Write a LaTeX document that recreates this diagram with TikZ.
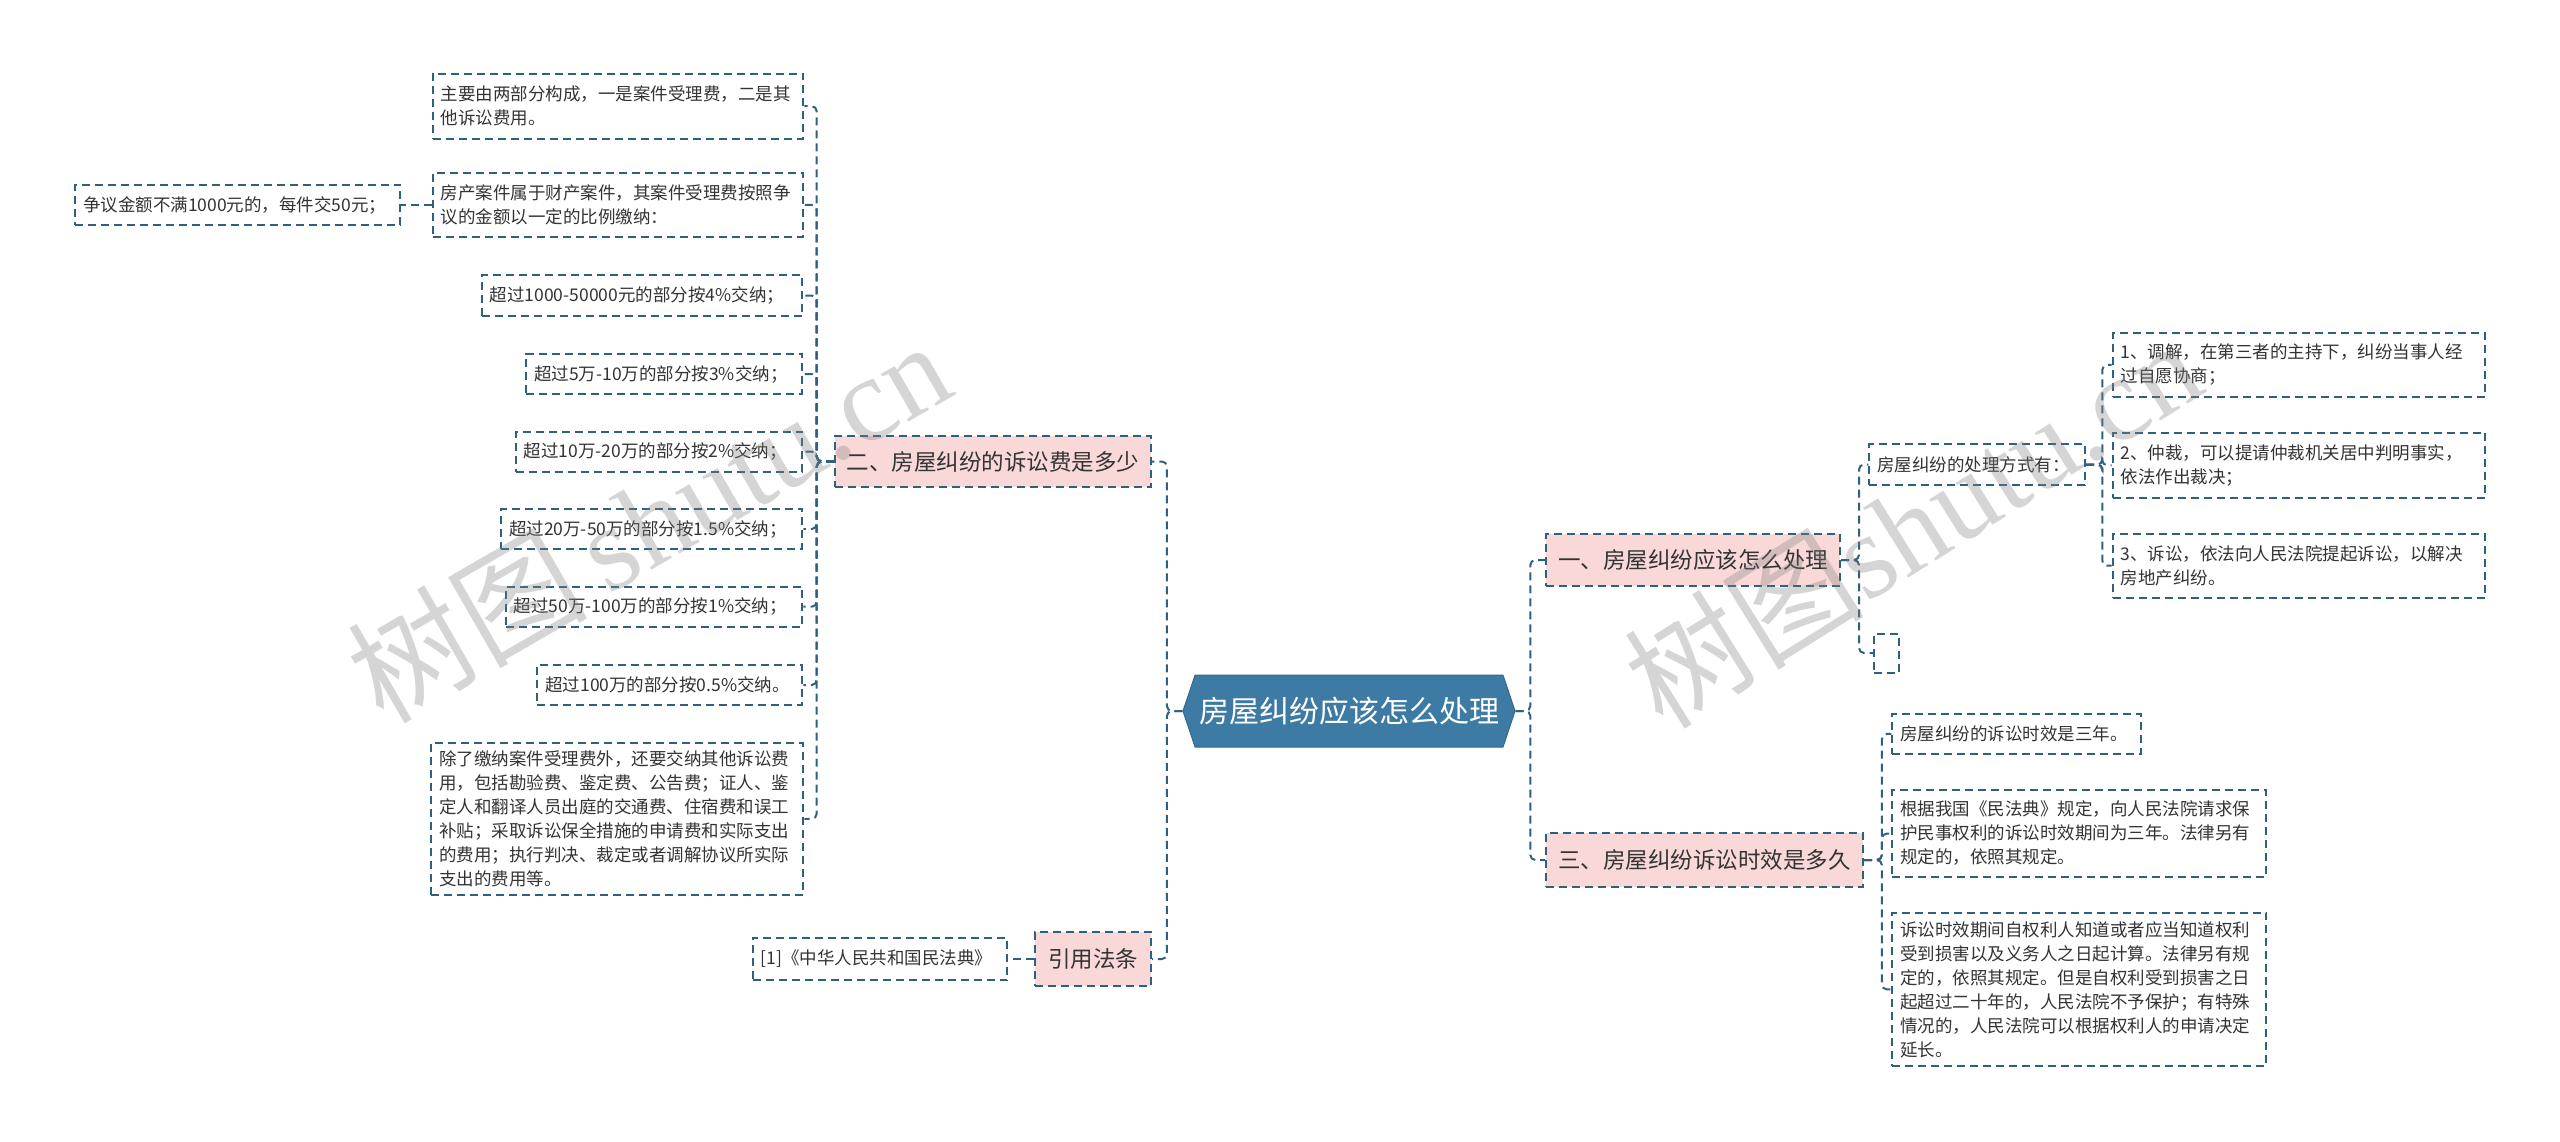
\documentclass[tikz,border=0pt]{standalone}
\usepackage{fontspec}
\setmainfont{Noto Sans CJK SC}
\newfontfamily\wmserif{Liberation Serif}
\usetikzlibrary{shapes.symbols}
\definecolor{lnc}{HTML}{2F607F}
\definecolor{hexc}{HTML}{3D7BA5}
\definecolor{pinkc}{HTML}{F9D8D8}
\definecolor{txtc}{HTML}{333333}
\newcommand\myS{\fontsize{17.5pt}{24pt}\selectfont}
\newcommand\myB{\fontsize{22.5pt}{28pt}\selectfont}
\newcommand\myC{\fontsize{30pt}{36pt}\selectfont}
\newcommand\myW{\fontsize{120pt}{125pt}\selectfont}
\tikzset{
  dsh/.style={dash pattern=on 8pt off 5pt, line width=2pt, draw=lnc},
  box/.style={dsh, inner xsep=8pt, inner ysep=0pt, align=left, text=txtc, font=\myS, anchor=center},
  brbox/.style={dsh, fill=pinkc, inner xsep=8pt, inner ysep=0pt, align=center, text=txtc, font=\myB, anchor=center},
  conn/.style={dsh, rounded corners=5pt},
  wmark/.style={text=gray, text opacity=0.33, font=\myW}
}
\begin{document}
\begin{tikzpicture}[x=1pt,y=-1pt]
\useasboundingbox (0,0) rectangle (2560,1142);
% root
\node[signal, signal to=west and east, signal pointer angle=143, fill=hexc, draw=hexc!85!black, line width=1pt,
      minimum width=332pt, minimum height=72pt, inner sep=0pt, text=white, font=\myC] (root) at (1349,711) {房屋纠纷应该怎么处理};
% branches
\node[brbox, minimum width=316pt, minimum height=51pt] (b2) at (993,461.5) {二、房屋纠纷的诉讼费是多少};
\node[brbox, minimum width=116pt, minimum height=54pt] (bref) at (1093,959) {引用法条};
\node[brbox, minimum width=294pt, minimum height=52pt] (b1) at (1693,560) {一、房屋纠纷应该怎么处理};
\node[brbox, minimum width=317pt, minimum height=54pt] (b3) at (1704.5,860) {三、房屋纠纷诉讼时效是多久};
% left leaves
\node[box, minimum width=370.6pt, minimum height=65.3pt, text width=354.6pt] (A) at (618,106.2) {主要由两部分构成，一是案件受理费，二是其\\他诉讼费用。};
\node[box, minimum width=370.6pt, minimum height=63.6pt, text width=354.6pt] (C) at (618,205) {房产案件属于财产案件，其案件受理费按照争\\议的金额以一定的比例缴纳：};
\node[box, minimum width=325pt, minimum height=40.8pt, text width=309pt] (B) at (237.5,205) {争议金额不满1000元的，每件交50元；};
\node[box, minimum width=320.6pt, minimum height=41pt, text width=304.6pt] (D) at (642,295.5) {超过1000-50000元的部分按4\%交纳；};
\node[box, minimum width=276.3pt, minimum height=40pt, text width=260.3pt] (E) at (664.2,374) {超过5万-10万的部分按3\%交纳；};
\node[box, minimum width=286.6pt, minimum height=40pt, text width=270.6pt] (F) at (659,451.7) {超过10万-20万的部分按2\%交纳；};
\node[box, minimum width=301.3pt, minimum height=40pt, text width=285.3pt] (G) at (651.7,529) {超过20万-50万的部分按1.5\%交纳；};
\node[box, minimum width=296.6pt, minimum height=40pt, text width=280.6pt] (H) at (654,606.7) {超过50万-100万的部分按1\%交纳；};
\node[box, minimum width=265pt, minimum height=40pt, text width=249pt] (I) at (669.8,685) {超过100万的部分按0.5\%交纳。};
\node[box, minimum width=372.3pt, minimum height=151.8pt, text width=356.3pt] (J) at (617.2,818.8) {除了缴纳案件受理费外，还要交纳其他诉讼费\\用，包括勘验费、鉴定费、公告费；证人、鉴\\定人和翻译人员出庭的交通费、住宿费和误工\\补贴；采取诉讼保全措施的申请费和实际支出\\的费用；执行判决、裁定或者调解协议所实际\\支出的费用等。};
\node[box, minimum width=254.7pt, minimum height=42.4pt, text width=238.7pt] (K) at (880,959) {[1]《中华人民共和国民法典》};
% right leaves
\node[box, minimum width=215.6pt, minimum height=41pt, text width=199.6pt] (L) at (1977.2,464.5) {房屋纠纷的处理方式有：};
\node[box, minimum width=25pt, minimum height=39pt, inner xsep=0pt] (M) at (1886.5,653) {};
\node[box, minimum width=372.3pt, minimum height=63.7pt, text width=356.3pt] (N) at (2298.8,364.8) {1、调解，在第三者的主持下，纠纷当事人经\\过自愿协商；};
\node[box, minimum width=372.3pt, minimum height=65.3pt, text width=356.3pt] (O) at (2298.8,465.3) {2、仲裁，可以提请仲裁机关居中判明事实，\\依法作出裁决；};
\node[box, minimum width=372.3pt, minimum height=63.7pt, text width=356.3pt] (P) at (2298.8,565.7) {3、诉讼，依法向人民法院提起诉讼，以解决\\房地产纠纷。};
\node[box, minimum width=248.2pt, minimum height=40.8pt, text width=232.2pt] (Q) at (2016.4,733.9) {房屋纠纷的诉讼时效是三年。};
\node[box, minimum width=373.9pt, minimum height=86.6pt, text width=357.9pt] (R) at (2079.2,833.5) {根据我国《民法典》规定，向人民法院请求保\\护民事权利的诉讼时效期间为三年。法律另有\\规定的，依照其规定。};
\node[box, minimum width=373.9pt, minimum height=153.5pt, text width=357.9pt] (S) at (2079.2,989.4) {诉讼时效期间自权利人知道或者应当知道权利\\受到损害以及义务人之日起计算。法律另有规\\定的，依照其规定。但是自权利受到损害之日\\起超过二十年的，人民法院不予保护；有特殊\\情况的，人民法院可以根据权利人的申请决定\\延长。};
% connectors
\foreach \c in {b2,bref} \draw[conn] (root.west) -- ++(-15.6,0) |- (\c.east);
\foreach \c in {b1,b3} \draw[conn] (root.east) -- ++(14.8,0) |- (\c.west);
\foreach \c in {A,C,D,E,F,G,H,I,J} \draw[conn] (b2.west) -- ++(-17.3,0) |- (\c.east);
\draw[conn] (C.west) -- (B.east);
\draw[conn] (bref.west) -- (K.east);
\foreach \c in {L,M} \draw[conn] (b1.east) -- ++(18,0) |- (\c.west);
\foreach \c in {N,O,P} \draw[conn] (L.east) -- ++(16.3,0) |- (\c.west);
\foreach \c in {Q,R,S} \draw[conn] (b3.east) -- ++(17.9,0) |- (\c.west);
% watermarks
\node[wmark, rotate=30] (wm1) at (648,520) {树图\,{\wmserif shutu.cn}};
\node[wmark, rotate=32] (wm2) at (1912,522) {树图{\wmserif shutu.cn}};
\end{tikzpicture}
\end{document}
